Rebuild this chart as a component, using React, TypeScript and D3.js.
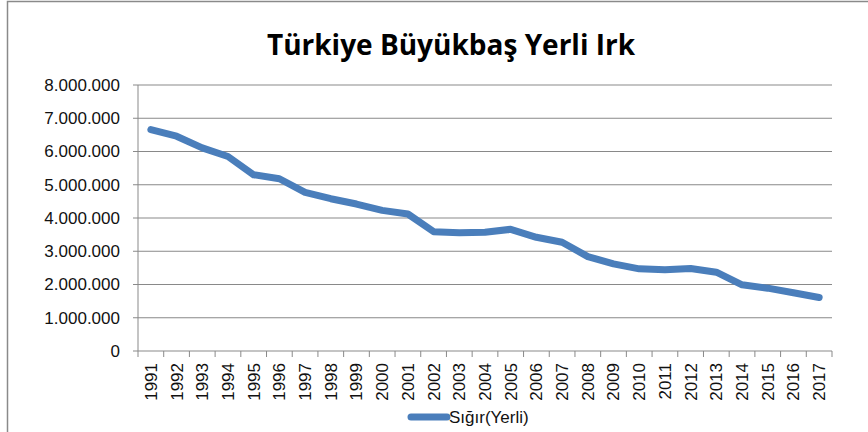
import React from "react";
import * as d3 from "d3";

const years: string[] = [
  "1991","1992","1993","1994","1995","1996","1997","1998","1999","2000",
  "2001","2002","2003","2004","2005","2006","2007","2008","2009","2010",
  "2011","2012","2013","2014","2015","2016","2017",
];
const sigirYerli: number[] = [
  6660000, 6460000, 6110000, 5850000, 5300000, 5180000, 4770000, 4580000, 4420000, 4230000,
  4120000, 3590000, 3560000, 3570000, 3660000, 3420000, 3270000, 2840000, 2620000, 2470000,
  2440000, 2480000, 2370000, 1990000, 1890000, 1750000, 1610000,
];
const yTicks: number[] = [0, 1000000, 2000000, 3000000, 4000000, 5000000, 6000000, 7000000, 8000000];
const title = "Türkiye Büyükbaş Yerli Irk";
const seriesName = "Sığır(Yerli)";

const W = 868;
const H = 432;
const left = 138;
const right = 832;
const top = 85;
const bottom = 351;
const grid = "#898989";
const blue = "#4a7ebb";
const font = "'Liberation Sans', Arial, sans-serif";

const fmt = (v: number) => {
  const s = d3.format(",")(v);
  return s.replace(/,/g, ".");
};

export default function App() {
  const x = d3.scaleBand<string>().domain(years).range([left, right]);
  const y = d3.scaleLinear().domain([0, 8000000]).range([bottom, top]);
  const line = d3
    .line<number>()
    .x((_, i) => (x(years[i]) as number) + x.bandwidth() / 2)
    .y((d) => y(d))
    .curve(d3.curveLinear);

  const boundaries = years.map((yr) => x(yr) as number).concat([right]);

  return (
    <svg
      width={W}
      height={H}
      style={{ position: "absolute", left: 0, top: 0, background: "#fff" }}
    >
      <rect x={0} y={0} width={W} height={H} fill="#fff" />
      <path d={`M7.5,${H} V1.5 H${W}`} fill="none" stroke="#8a8a8a" strokeWidth={1.5} />
      <text
        x={451}
        y={55}
        textAnchor="middle"
        fontFamily="'Open Sans', sans-serif"
        fontWeight="bold"
        fontSize={28}
        fill="#000"
      >
        {title}
      </text>
      {yTicks.map((t) => (
        <g key={t}>
          <line x1={left - 5} x2={right} y1={y(t)} y2={y(t)} stroke={grid} strokeWidth={1} />
          <text
            x={120}
            y={y(t)}
            dy="0.35em"
            textAnchor="end"
            fontFamily={font}
            fontSize={17}
            fill="#111"
          >
            {fmt(t)}
          </text>
        </g>
      ))}
      <line x1={left} x2={left} y1={top} y2={bottom} stroke={grid} strokeWidth={1} />
      {boundaries.map((b, i) => (
        <line key={i} x1={b} x2={b} y1={bottom} y2={bottom + 6} stroke={grid} strokeWidth={1} />
      ))}
      {years.map((yr) => {
        const cx = (x(yr) as number) + x.bandwidth() / 2;
        return (
          <text
            key={yr}
            transform={`translate(${cx},${363}) rotate(-90)`}
            textAnchor="end"
            dy="0.35em"
            fontFamily={font}
            fontSize={17}
            fill="#111"
          >
            {yr}
          </text>
        );
      })}
      <path
        d={line(sigirYerli) || ""}
        fill="none"
        stroke={blue}
        strokeWidth={7}
        strokeLinejoin="round"
        strokeLinecap="round"
      />
      <line x1={411} x2={447} y1={417} y2={417} stroke={blue} strokeWidth={7} strokeLinecap="round" />
      <text x={449} y={417} dy="0.35em" fontFamily={font} fontSize={17} fill="#111">
        {seriesName}
      </text>
    </svg>
  );
}
